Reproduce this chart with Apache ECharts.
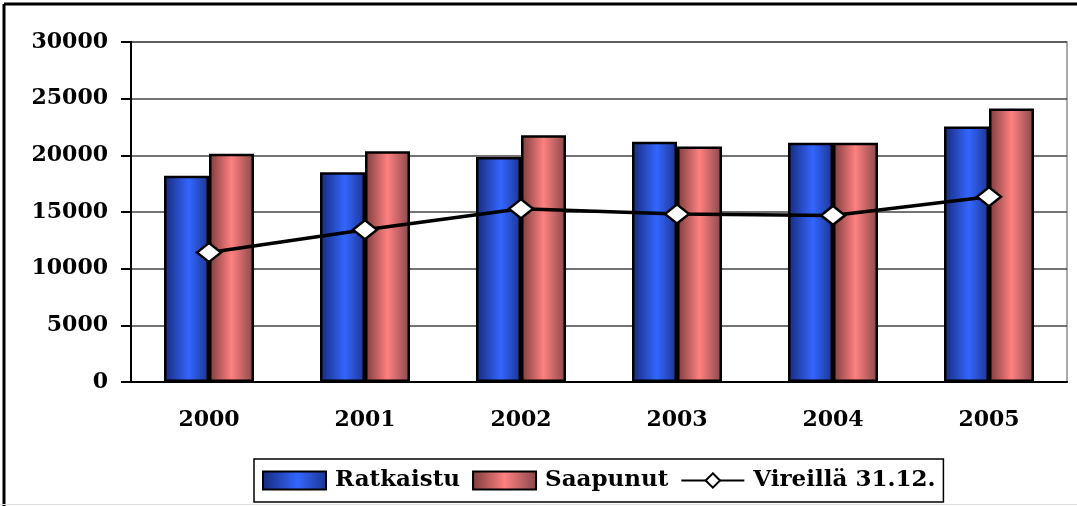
<!DOCTYPE html>
<html>
<head>
<meta charset="utf-8">
<script src="https://cdn.jsdelivr.net/npm/echarts@6/dist/echarts.min.js"></script>
<style>
  html, body { margin: 0; padding: 0; background: #fff; }
  #chart { width: 1077px; height: 506px; }
</style>
</head>
<body>
<div id="chart"></div>
<script>
// vuodet ja arvot luettu kuvasta
const years = ['2000', '2001', '2002', '2003', '2004', '2005']
const ratkaistu = [18200, 18500, 19850, 21200, 21100, 22550]
const saapunut = [20150, 20350, 21770, 20770, 21100, 24130]
const vireilla = [11430, 13430, 15290, 14820, 14700, 16350]

const fontFam = '"DejaVu Serif", "Liberation Serif", serif'

const blueGrad = new echarts.graphic.LinearGradient(0, 0, 1, 0, [
  {offset: 0, color: '#182a78'},
  {offset: 0.55, color: '#3366ff'},
  {offset: 1, color: '#1c3490'}
])
const pinkGrad = new echarts.graphic.LinearGradient(0, 0, 1, 0, [
  {offset: 0, color: '#7a3c3c'},
  {offset: 0.5, color: '#ff8080'},
  {offset: 1, color: '#86474a'}
])

const myChart = echarts.init(document.getElementById('chart'))
const option = {
  animation: false,
  backgroundColor: '#fff',
  graphic: [
    // ulkokehys
    {type: 'line', shape: {x1: 4, y1: 4, x2: 1077, y2: 4}, style: {stroke: '#000', lineWidth: 3}},
    {type: 'line', shape: {x1: 4, y1: 4, x2: 4, y2: 506}, style: {stroke: '#000', lineWidth: 3}},
    {type: 'line', shape: {x1: 0, y1: 504.5, x2: 1077, y2: 504.5}, style: {stroke: '#ddd', lineWidth: 1}}
  ],
  grid: {
    left: 131,
    top: 42,
    right: 10,
    bottom: 124,
    show: true,
    borderColor: '#aaa',
    borderWidth: 2
  },
  legend: {
    left: 254,
    top: 459,
    padding: [10, 8, 10, 8],
    itemGap: 12,
    itemWidth: 63,
    itemHeight: 18,
    borderColor: '#000',
    borderWidth: 1.5,
    textStyle: {
      fontFamily: fontFam,
      fontWeight: 'bold',
      fontSize: 23,
      color: '#000',
      padding: [0, 0, 0, 4]
    },
    data: [
      {name: 'Ratkaistu', icon: 'rect'},
      {name: 'Saapunut', icon: 'rect'},
      {name: 'Vireillä 31.12.'}
    ]
  },
  xAxis: {
    type: 'category',
    data: years,
    axisLine: {lineStyle: {color: '#000', width: 2}},
    axisTick: {length: 9, lineStyle: {color: '#000', width: 2}},
    axisLabel: {
      margin: 27,
      color: '#000',
      fontFamily: fontFam,
      fontWeight: 'bold',
      fontSize: 22
    }
  },
  yAxis: {
    type: 'value',
    min: 0,
    max: 30000,
    interval: 5000,
    axisLine: {show: true, lineStyle: {color: '#000', width: 2}},
    axisTick: {show: true, length: 10, lineStyle: {color: '#000', width: 2}},
    splitLine: {lineStyle: {color: '#444', width: 1.5}},
    axisLabel: {
      margin: 23,
      color: '#000',
      fontFamily: fontFam,
      fontWeight: 'bold',
      fontSize: 22,
      formatter: (v) => String(v)
    }
  },
  series: [
    {
      name: 'Ratkaistu',
      type: 'bar',
      barWidth: 45,
      barGap: '0%',
      data: ratkaistu,
      itemStyle: {color: blueGrad, borderColor: '#000', borderWidth: 2.5}
    },
    {
      name: 'Saapunut',
      type: 'bar',
      barWidth: 45,
      data: saapunut,
      itemStyle: {color: pinkGrad, borderColor: '#000', borderWidth: 2.5}
    },
    {
      name: 'Vireillä 31.12.',
      type: 'line',
      data: vireilla,
      z: 5,
      symbol: 'diamond',
      symbolSize: [24, 19],
      lineStyle: {color: '#000', width: 3.5},
      itemStyle: {color: '#fff', borderColor: '#000', borderWidth: 2.5}
    }
  ]
}
myChart.setOption(option)
</script>
</body>
</html>
